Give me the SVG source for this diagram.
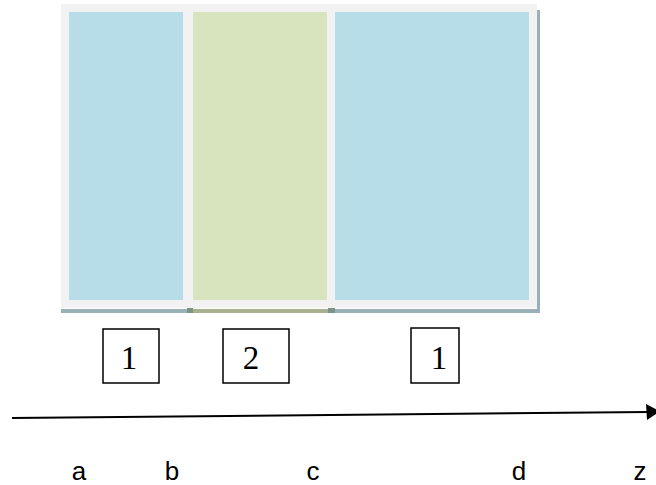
<svg xmlns="http://www.w3.org/2000/svg" width="656" height="485" viewBox="0 0 656 485">
<style>
.lbl{font-family:"Liberation Serif","Times New Roman",serif;font-size:33px;fill:#000;text-anchor:middle}
.ax{font-family:"Liberation Sans",Arial,sans-serif;font-size:26px;fill:#000;text-anchor:middle}
.box{fill:#fff;stroke:#000;stroke-width:1.5}
</style>
<g id="frame">
<rect x="537" y="10" width="3" height="303" fill="#98B0B6"/>
<rect x="61" y="309" width="479" height="4" fill="#98B0B6"/>
<rect x="193" y="309" width="134" height="4" fill="#A9B18C"/>
<rect x="187" y="308" width="6" height="5" fill="#7A9480"/>
<rect x="328" y="308" width="7" height="5" fill="#7A948A"/>
<rect x="61" y="4" width="476" height="304" fill="#F2F2F2"/>
</g>
<g id="seg1"><rect x="69" y="12" width="114" height="288" fill="#B7DDE8"/></g>
<g id="seg2"><rect x="193" y="12" width="134" height="288" fill="#D7E4BD"/></g>
<g id="seg3"><rect x="335" y="12" width="194" height="288" fill="#B7DDE8"/></g>
<g id="box1"><rect class="box" x="103" y="329" width="56" height="54"/><text class="lbl" x="129" y="369">1</text></g>
<g id="box2"><rect class="box" x="223" y="329" width="66" height="54"/><text class="lbl" x="251" y="369">2</text></g>
<g id="box3"><rect class="box" x="411" y="328" width="48" height="55"/><text class="lbl" x="439" y="369">1</text></g>
<g id="connectors">
<line x1="12" y1="418" x2="648" y2="412" stroke="#000" stroke-width="2"/>
<polygon points="646,404 660,411.5 647,420" fill="#000"/>
</g>
<g id="axis-labels">
<text class="ax" x="79" y="480">a</text>
<text class="ax" x="172" y="480">b</text>
<text class="ax" x="313" y="480">c</text>
<text class="ax" x="519" y="480">d</text>
<text class="ax" x="640" y="480">z</text>
</g>
</svg>
